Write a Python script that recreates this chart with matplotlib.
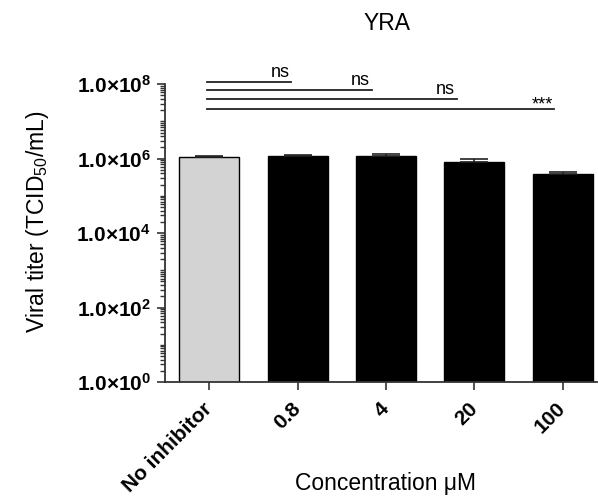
import numpy as np
import matplotlib
matplotlib.use("Agg")
import matplotlib.pyplot as plt
from matplotlib.ticker import FixedLocator, LogLocator, NullFormatter

plt.rcParams['font.family'] = ['Liberation Sans', 'DejaVu Sans']
plt.rcParams['mathtext.fontset'] = 'custom'
plt.rcParams['mathtext.rm'] = 'Liberation Sans'
plt.rcParams['mathtext.bf'] = 'Liberation Sans:bold'

categories = ["No inhibitor", "0.8", "4", "20", "100"]
titer = [1.1e6, 1.17e6, 1.17e6, 7.9e5, 3.8e5]
titer_err = [1.0e5, 4.0e4, 1.2e5, 2.0e5, 5.5e4]
bar_colors = ["#d3d3d3", "black", "black", "black", "black"]

# comparisons against "No inhibitor": (target index, label, line height)
comparisons = [(1, "ns", 1.12e8), (2, "ns", 7.0e7), (3, "ns", 4.0e7), (4, "***", 2.2e7)]
line_end_shift = [0.07, 0.16, 0.2, 0.1]

fig = plt.figure(figsize=(5.98, 4.99), dpi=100)
ax = fig.add_axes([0.2759, 0.2345, 0.7221, 0.597])

x = np.arange(len(categories))
ax.bar(x, titer, width=0.68, color=bar_colors, edgecolor="black", linewidth=1.0, zorder=2)
ax.errorbar(x, titer, yerr=[np.zeros(len(titer)), titer_err], fmt="none",
            ecolor="#222222", elinewidth=1.2, capsize=10.4, capthick=1.2, zorder=3)

ax.set_yscale("log")
ax.set_ylim(1, 1e8)
ax.set_xlim(-0.5, 4.385)
ax.yaxis.set_major_locator(FixedLocator([1e0, 1e2, 1e4, 1e6, 1e8]))
ax.yaxis.set_minor_locator(LogLocator(base=10, subs=np.arange(1, 10), numticks=100))
ax.yaxis.set_minor_formatter(NullFormatter())
ax.set_yticklabels([r"$\mathbf{1.0{\times}10^{%d}}$" % p for p in [0, 2, 4, 6, 8]], fontsize=15)

ax.set_xticks(x)
ax.set_xticklabels(categories, rotation=45, ha="right", va="center",
                   rotation_mode="anchor", fontsize=15, fontweight="bold")
for lab in ax.get_xticklabels():
    lab.set_y(-0.035)

for s in ["top", "right"]:
    ax.spines[s].set_visible(False)
for s in ["left", "bottom"]:
    ax.spines[s].set_linewidth(1.3)
    ax.spines[s].set_color("#333333")
ax.tick_params(axis="both", which="major", length=6, width=1.2, color="#333333")
ax.tick_params(axis="y", which="major", pad=4)
ax.tick_params(axis="y", which="minor", length=3.5, width=1.0, color="#333333")

for (j, lab, h), sh in zip(comparisons, line_end_shift):
    end = x[j] - sh
    ax.plot([x[0] - 0.02, end], [h, h], color="#222222", lw=1.3, clip_on=False)
    if lab == "***":
        ax.text(end - 0.13, h * 0.97, lab, ha="center", va="baseline",
                fontsize=13, clip_on=False)
    else:
        ax.text(end - 0.13, h * 1.08, lab, ha="center", va="bottom",
                fontsize=13, clip_on=False)

fig.text(0.647, 0.952, "YRA", ha="center", va="center", fontsize=16.5)
fig.text(0.062, 0.555, "Viral titer (TCID$_{50}$/mL)", ha="center", va="center",
         rotation=90, fontsize=16.5)
fig.text(0.644, 0.032, "Concentration μM", ha="center", va="center", fontsize=16.5)

fig.savefig("out.png", dpi=100)
